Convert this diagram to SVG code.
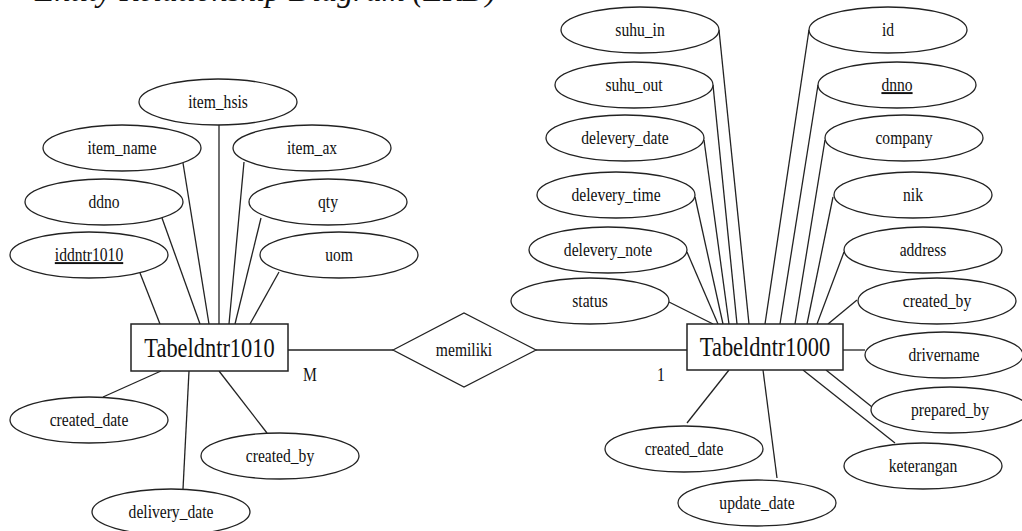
<svg xmlns="http://www.w3.org/2000/svg" width="1022" height="531" viewBox="0 0 1022 531">
  <style>
    .ln { stroke: #222; stroke-width: 1.3; fill: none; }
    .at ellipse { fill: #fff; stroke: #222; stroke-width: 1.3; }
    .en rect { fill: #fff; stroke: #222; stroke-width: 1.5; }
    .rl polygon { fill: #fff; stroke: #222; stroke-width: 1.3; }
    text { font-family: "Liberation Serif", "Times New Roman", serif; fill: #111; text-anchor: middle; }
    .t { font-size: 19.5px; }
    .et { font-size: 27px; }
    .pk { text-decoration: underline; }
    .hd { font-size: 32px; font-style: italic; text-anchor: start; }
  </style>

  <!-- heading, cut at the top edge -->
  <text class="hd" x="35" y="0.5">Entity Relationship Diagram (ERD)</text>

  <!-- connectors -->
  <g id="connectors">
    <!-- Tabeldntr1010 attributes -->
    <line class="ln" x1="140" y1="273" x2="160" y2="324"/>
    <line class="ln" x1="162" y1="218" x2="200" y2="324"/>
    <line class="ln" x1="183" y1="163" x2="209" y2="324"/>
    <line class="ln" x1="219" y1="125" x2="219" y2="324"/>
    <line class="ln" x1="244" y1="162" x2="229" y2="324"/>
    <line class="ln" x1="261" y1="218" x2="235" y2="324"/>
    <line class="ln" x1="279" y1="272" x2="250" y2="324"/>
    <line class="ln" x1="161" y1="371" x2="103" y2="397"/>
    <line class="ln" x1="189" y1="371" x2="183" y2="489"/>
    <line class="ln" x1="219" y1="371" x2="267" y2="433"/>
    <!-- relationship -->
    <line class="ln" x1="288" y1="350" x2="393" y2="350"/>
    <line class="ln" x1="536" y1="350" x2="687" y2="350"/>
    <!-- Tabeldntr1000 attributes -->
    <line class="ln" x1="719" y1="30" x2="749" y2="324"/>
    <line class="ln" x1="713" y1="85" x2="737" y2="324"/>
    <line class="ln" x1="704" y1="140" x2="729" y2="324"/>
    <line class="ln" x1="695" y1="197" x2="723" y2="324"/>
    <line class="ln" x1="687" y1="252" x2="718" y2="324"/>
    <line class="ln" x1="669" y1="302" x2="713" y2="324"/>
    <line class="ln" x1="809" y1="30" x2="765" y2="324"/>
    <line class="ln" x1="818" y1="85" x2="780" y2="324"/>
    <line class="ln" x1="825" y1="140" x2="795" y2="324"/>
    <line class="ln" x1="833" y1="197" x2="807" y2="324"/>
    <line class="ln" x1="844" y1="252" x2="817" y2="324"/>
    <line class="ln" x1="857" y1="300" x2="828" y2="324"/>
    <line class="ln" x1="843" y1="350" x2="865" y2="350"/>
    <line class="ln" x1="826" y1="370" x2="872" y2="407"/>
    <line class="ln" x1="803" y1="370" x2="895" y2="443"/>
    <line class="ln" x1="729" y1="370" x2="687" y2="423"/>
    <line class="ln" x1="763" y1="370" x2="777" y2="478"/>
  </g>

  <!-- cardinality -->
  <text class="t" transform="translate(310 381) scale(.8 1)">M</text>
  <text class="t" transform="translate(661 381) scale(.8 1)">1</text>

  <!-- Tabeldntr1010 and its attributes -->
  <g id="item_hsis" class="at"><ellipse cx="218" cy="102" rx="79" ry="23"/><text class="t" transform="translate(218 108) scale(.8 1)">item_hsis</text></g>
  <g id="item_name" class="at"><ellipse cx="122" cy="148" rx="79" ry="23"/><text class="t" transform="translate(122 154) scale(.8 1)">item_name</text></g>
  <g id="item_ax" class="at"><ellipse cx="312" cy="148" rx="79" ry="23"/><text class="t" transform="translate(312 154) scale(.8 1)">item_ax</text></g>
  <g id="ddno" class="at"><ellipse cx="104" cy="202" rx="79" ry="23"/><text class="t" transform="translate(104 208) scale(.8 1)">ddno</text></g>
  <g id="qty" class="at"><ellipse cx="328" cy="202" rx="79" ry="23"/><text class="t" transform="translate(328 208) scale(.8 1)">qty</text></g>
  <g id="iddntr1010" class="at"><ellipse cx="89" cy="255" rx="79" ry="23"/><text class="t pk" transform="translate(89 261) scale(.8 1)">iddntr1010</text></g>
  <g id="uom" class="at"><ellipse cx="339" cy="255" rx="79" ry="23"/><text class="t" transform="translate(339 261) scale(.8 1)">uom</text></g>
  <g id="created_date_1010" class="at"><ellipse cx="89" cy="420" rx="79" ry="23"/><text class="t" transform="translate(89 426) scale(.8 1)">created_date</text></g>
  <g id="delivery_date" class="at"><ellipse cx="171" cy="512" rx="79" ry="23"/><text class="t" transform="translate(171 518) scale(.8 1)">delivery_date</text></g>
  <g id="created_by_1010" class="at"><ellipse cx="280" cy="456" rx="79" ry="23"/><text class="t" transform="translate(280 462) scale(.8 1)">created_by</text></g>
  <g id="Tabeldntr1010" class="en"><rect x="131" y="324" width="157" height="47"/><text class="et" transform="translate(209.5 357) scale(.83 1)">Tabeldntr1010</text></g>

  <!-- relationship -->
  <g id="memiliki" class="rl"><polygon points="393,350 464,313 536,350 464,387"/><text class="t" transform="translate(464 356) scale(.8 1)">memiliki</text></g>

  <!-- Tabeldntr1000 and its attributes -->
  <g id="Tabeldntr1000" class="en"><rect x="687" y="324" width="156" height="46"/><text class="et" transform="translate(765 356) scale(.83 1)">Tabeldntr1000</text></g>
  <g id="suhu_in" class="at"><ellipse cx="640" cy="30" rx="79" ry="23"/><text class="t" transform="translate(640 36) scale(.8 1)">suhu_in</text></g>
  <g id="suhu_out" class="at"><ellipse cx="634" cy="85" rx="79" ry="23"/><text class="t" transform="translate(634 91) scale(.8 1)">suhu_out</text></g>
  <g id="delevery_date" class="at"><ellipse cx="625" cy="138" rx="79" ry="23"/><text class="t" transform="translate(625 144) scale(.8 1)">delevery_date</text></g>
  <g id="delevery_time" class="at"><ellipse cx="616" cy="195" rx="79" ry="23"/><text class="t" transform="translate(616 201) scale(.8 1)">delevery_time</text></g>
  <g id="delevery_note" class="at"><ellipse cx="608" cy="250" rx="79" ry="23"/><text class="t" transform="translate(608 256) scale(.8 1)">delevery_note</text></g>
  <g id="status" class="at"><ellipse cx="590" cy="301" rx="79" ry="23"/><text class="t" transform="translate(590 307) scale(.8 1)">status</text></g>
  <g id="id" class="at"><ellipse cx="888" cy="30" rx="79" ry="23"/><text class="t" transform="translate(888 36) scale(.8 1)">id</text></g>
  <g id="dnno" class="at"><ellipse cx="897" cy="85" rx="79" ry="23"/><text class="t pk" transform="translate(897 91) scale(.8 1)">dnno</text></g>
  <g id="company" class="at"><ellipse cx="904" cy="138" rx="79" ry="23"/><text class="t" transform="translate(904 144) scale(.8 1)">company</text></g>
  <g id="nik" class="at"><ellipse cx="913" cy="195" rx="79" ry="23"/><text class="t" transform="translate(913 201) scale(.8 1)">nik</text></g>
  <g id="address" class="at"><ellipse cx="923" cy="250" rx="79" ry="23"/><text class="t" transform="translate(923 256) scale(.8 1)">address</text></g>
  <g id="created_by_1000" class="at"><ellipse cx="937" cy="301" rx="79" ry="23"/><text class="t" transform="translate(937 307) scale(.8 1)">created_by</text></g>
  <g id="drivername" class="at"><ellipse cx="944" cy="355" rx="79" ry="23"/><text class="t" transform="translate(944 361) scale(.8 1)">drivername</text></g>
  <g id="prepared_by" class="at"><ellipse cx="950" cy="410" rx="79" ry="23"/><text class="t" transform="translate(950 416) scale(.8 1)">prepared_by</text></g>
  <g id="keterangan" class="at"><ellipse cx="923" cy="466" rx="79" ry="23"/><text class="t" transform="translate(923 472) scale(.8 1)">keterangan</text></g>
  <g id="created_date_1000" class="at"><ellipse cx="684" cy="449" rx="79" ry="23"/><text class="t" transform="translate(684 455) scale(.8 1)">created_date</text></g>
  <g id="update_date" class="at"><ellipse cx="757" cy="503" rx="79" ry="23"/><text class="t" transform="translate(757 509) scale(.8 1)">update_date</text></g>
</svg>
